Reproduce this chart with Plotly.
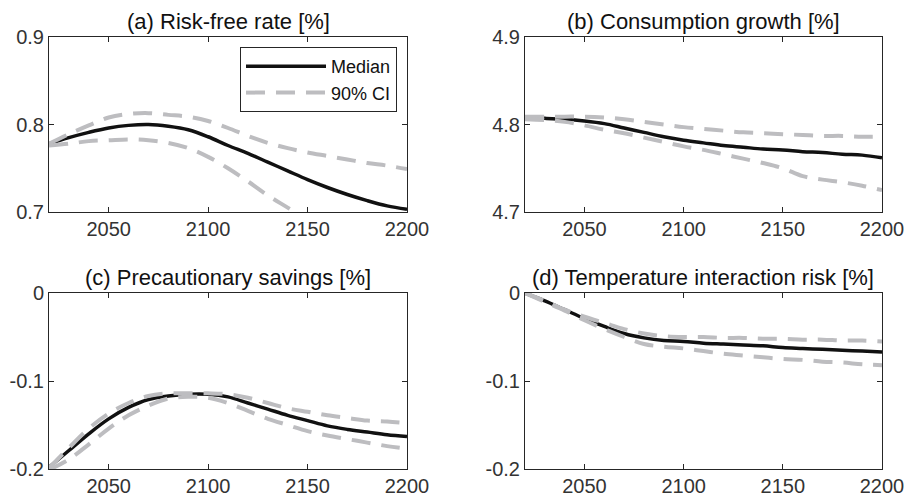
import plotly.graph_objects as go

years = [2020, 2030, 2040, 2050, 2060, 2070, 2080, 2090, 2100, 2110,
         2120, 2130, 2140, 2150, 2160, 2170, 2180, 2190, 2200]

# (a) Risk-free rate [%]
rf_median = [0.778, 0.785, 0.791, 0.796, 0.799, 0.800, 0.798, 0.794, 0.786, 0.776,
             0.767, 0.757, 0.747, 0.737, 0.728, 0.720, 0.713, 0.707, 0.703]
rf_upper = [0.778, 0.789, 0.799, 0.808, 0.812, 0.813, 0.811, 0.809, 0.804, 0.796,
            0.787, 0.779, 0.773, 0.768, 0.764, 0.760, 0.756, 0.753, 0.749]
rf_lower = [0.776, 0.778, 0.781, 0.782, 0.783, 0.782, 0.779, 0.773, 0.763, 0.750,
            0.735, 0.719, 0.705, 0.691, 0.678, 0.668, 0.660, 0.653, 0.647]

# (b) Consumption growth [%]
cg_median = [4.8076, 4.807, 4.806, 4.804, 4.801, 4.796, 4.791, 4.786, 4.782, 4.779,
             4.776, 4.774, 4.772, 4.771, 4.769, 4.768, 4.766, 4.765, 4.762]
cg_upper = [4.809, 4.809, 4.809, 4.809, 4.808, 4.806, 4.803, 4.800, 4.797, 4.795,
            4.793, 4.791, 4.790, 4.789, 4.788, 4.787, 4.787, 4.786, 4.786]
cg_lower = [4.806, 4.805, 4.803, 4.799, 4.794, 4.790, 4.785, 4.780, 4.775, 4.771,
            4.766, 4.761, 4.756, 4.750, 4.741, 4.737, 4.734, 4.730, 4.725]

# (c) Precautionary savings [%]
ps_median = [-0.198, -0.179, -0.160, -0.143, -0.130, -0.121, -0.117, -0.115, -0.115, -0.118,
             -0.125, -0.132, -0.139, -0.145, -0.151, -0.155, -0.158, -0.161, -0.163]
ps_upper = [-0.199, -0.176, -0.154, -0.137, -0.125, -0.117, -0.114, -0.114, -0.114, -0.115,
            -0.119, -0.125, -0.131, -0.135, -0.139, -0.142, -0.145, -0.146, -0.148]
ps_lower = [-0.201, -0.189, -0.172, -0.154, -0.139, -0.128, -0.120, -0.118, -0.119, -0.125,
            -0.134, -0.143, -0.150, -0.157, -0.162, -0.166, -0.170, -0.174, -0.177]

# (d) Temperature interaction risk [%]
tr_median = [0.0, -0.009, -0.019, -0.029, -0.038, -0.046, -0.051, -0.054, -0.055, -0.057,
             -0.058, -0.059, -0.060, -0.062, -0.063, -0.064, -0.065, -0.066, -0.067]
tr_upper = [0.0, -0.009, -0.019, -0.027, -0.034, -0.041, -0.046, -0.049, -0.050, -0.050,
            -0.051, -0.051, -0.052, -0.052, -0.053, -0.053, -0.054, -0.054, -0.055]
tr_lower = [0.0, -0.010, -0.020, -0.031, -0.041, -0.050, -0.058, -0.061, -0.063, -0.066,
            -0.069, -0.071, -0.073, -0.075, -0.076, -0.078, -0.079, -0.081, -0.082]

titles = ["(a) Risk-free rate [%]", "(b) Consumption growth [%]",
          "(c) Precautionary savings [%]", "(d) Temperature interaction risk [%]"]
x_ticks = [2050, 2100, 2150, 2200]
y_ranges = [[0.7, 0.9], [4.7, 4.9], [-0.2, 0.0], [-0.2, 0.0]]
y_ticks = [[0.7, 0.8, 0.9], [4.7, 4.8, 4.9], [-0.2, -0.1, 0], [-0.2, -0.1, 0]]
y_ticktext = [["0.7", "0.8", "0.9"], ["4.7", "4.8", "4.9"], ["-0.2", "-0.1", "0"], ["-0.2", "-0.1", "0"]]

panels = [(rf_median, rf_upper, rf_lower), (cg_median, cg_upper, cg_lower),
          (ps_median, ps_upper, ps_lower), (tr_median, tr_upper, tr_lower)]

W, H = 906, 498
xdoms = [[49 / W, 407 / W], [525 / W, 882 / W]]
ydoms = [[(H - 212) / H, (H - 37) / H], [(H - 469) / H, (H - 293) / H]]

FONT = "Liberation Sans, Arial, Helvetica, sans-serif"
BLACK = "#111111"
GREY = "#bdbdc0"
AXC = "#262626"
TICKC = "#333333"

fig = go.Figure()
layout = dict(
    width=W, height=H, margin=dict(l=0, r=0, t=0, b=0, pad=0, autoexpand=False),
    paper_bgcolor="white", plot_bgcolor="white",
    font=dict(family=FONT, size=20, color=TICKC),
    showlegend=True,
    legend=dict(x=397 / W, y=(H - 47) / H, xanchor="right", yanchor="top",
                bordercolor=AXC, borderwidth=1, bgcolor="white",
                font=dict(size=18, color=BLACK), tracegroupgap=0, itemwidth=80),
    annotations=[],
)

for i, (med, up, lo) in enumerate(panels):
    r, c = divmod(i, 2)
    xa = "x" if i == 0 else f"x{i + 1}"
    ya = "y" if i == 0 else f"y{i + 1}"
    fig.add_trace(go.Scatter(x=years, y=med, xaxis=xa, yaxis=ya, mode="lines",
                             line=dict(color=BLACK, width=3.5, shape="spline"),
                             name="Median", showlegend=(i == 0), legendgroup="med"))
    fig.add_trace(go.Scatter(x=years, y=up, xaxis=xa, yaxis=ya, mode="lines",
                             line=dict(color=GREY, width=4, dash="19px,11px", shape="spline"),
                             name="90% CI", showlegend=(i == 0), legendgroup="ci"))
    fig.add_trace(go.Scatter(x=years, y=lo, xaxis=xa, yaxis=ya, mode="lines",
                             line=dict(color=GREY, width=4, dash="19px,11px", shape="spline"),
                             name="90% CI", showlegend=False, legendgroup="ci"))
    xkey = "xaxis" if i == 0 else f"xaxis{i + 1}"
    ykey = "yaxis" if i == 0 else f"yaxis{i + 1}"
    layout[xkey] = dict(domain=xdoms[c], anchor=ya, range=[2020, 2200],
                        tickvals=x_ticks, ticks="inside", ticklen=5, tickcolor=AXC,
                        showline=True, linecolor=AXC, linewidth=1, mirror="ticks",
                        showgrid=False, zeroline=False, automargin=False,
                        ticklabeloverflow="allow", ticklabelstandoff=-1,
                        tickfont=dict(size=20, color=TICKC, family=FONT))
    layout[ykey] = dict(domain=ydoms[r], anchor=xa, range=y_ranges[i],
                        tickvals=y_ticks[i], ticktext=y_ticktext[i],
                        ticks="inside", ticklen=5, tickcolor=AXC,
                        showline=True, linecolor=AXC, linewidth=1, mirror="ticks",
                        showgrid=False, zeroline=False, automargin=False,
                        ticklabeloverflow="allow",
                        tickfont=dict(size=20, color=TICKC, family=FONT))
    layout["annotations"].append(dict(
        text=titles[i], xref="paper", yref="paper",
        x=(xdoms[c][0] + xdoms[c][1]) / 2, y=ydoms[r][1], yshift=1,
        xanchor="center", yanchor="bottom", showarrow=False,
        font=dict(size=22, color=BLACK, family=FONT)))

fig.update_layout(**layout)
fig.write_html("out.html", config={"displayModeBar": False},
               post_script="document.body.style.margin='0';document.body.style.overflow='hidden';")
